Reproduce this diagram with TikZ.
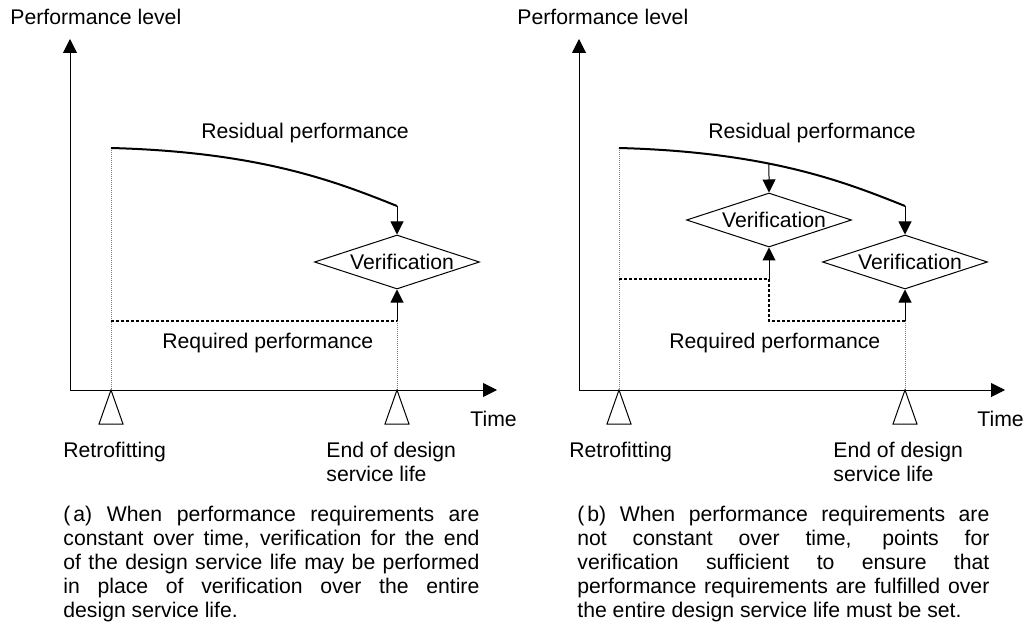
\documentclass[tikz,border=0pt]{standalone}
\usepackage{fontspec}
\setmainfont{Liberation Sans}
\usetikzlibrary{shapes.geometric,arrows.meta}

\tikzset{
  axis/.style={line width=0.5pt, -{Triangle[width=7pt,length=7pt]}},
  flow/.style={line width=0.5pt, -{Triangle[width=6.5pt,length=6.5pt]}},
  residual/.style={line width=1pt},
  required/.style={line width=1.1pt, dash pattern=on 1.5pt off 1pt},
  guide/.style={line width=0.3pt, gray, dash pattern=on 0.5pt off 0.5pt},
  verif/.style={draw, diamond, line width=0.5pt, minimum width=82.5pt, minimum height=27pt, inner sep=0pt},
  lbl/.style={font=\fontsize{10.6}{12}\selectfont, inner sep=0pt},
  caption/.style={lbl, text width=208pt, align=justify, anchor=base west,
    execute at begin node={\tolerance=10000}},
  tickmark/.style={draw, fill=white, line width=0.5pt}
}

\begin{document}
\begin{tikzpicture}[x=0.5pt, y=-0.5pt]

    \useasboundingbox (0,0) rectangle (1024,626);

    % ---------- (a) constant requirement ----------
    \coordinate (a-o) at (70,390);
    \coordinate (a-ytip) at (70,39);
    \coordinate (a-xtip) at (497,390);
    \coordinate (a-t0) at (111,390);
    \coordinate (a-t1) at (397,390);
    \coordinate (a-r0) at (111,148);
    \coordinate (a-r1) at (397,206);
    \coordinate (a-q0) at (111,321);
    \coordinate (a-q1) at (397,321);

    % Guides
    \draw[guide] (a-r0) -- (a-t0);
    \draw[guide] (a-q1) -- (a-t1);

    % Axes
    \draw[axis] (a-o) -- (a-ytip);
    \draw[axis] (a-o) -- (a-xtip);

    % Time marks
    \foreach \t in {a-t0, a-t1}
        \draw[tickmark] (\t) -- ++(-12,34) -- ++(24,0) -- cycle;

    % Residual and required performance
    \draw[residual] (a-r0) .. controls (261,152) and (337,182) .. (a-r1);
    \draw[required] (a-q0) -- (a-q1);

    % Verification
    \node[verif, label={[lbl, xshift=2.5pt]center:Verification}] (a-v) at (397,262) {};
    \draw[flow] (a-r1) -- (a-v.north);
    \draw[flow] (a-q1) -- (a-v.south);

    % Labels
    \node[lbl, anchor=base west] (a-ylab) at (10,25) {Performance level};
    \node[lbl, anchor=base west] (a-res) at (201,139) {Residual performance};
    \node[lbl, anchor=base west] (a-req) at (162,348) {Required performance};
    \node[lbl, anchor=base west] (a-time) at (470,426) {Time};
    \node[lbl, anchor=base west] (a-retro) at (63,457) {Retrofitting};
    \node[lbl, anchor=base west] (a-end1) at (326,457) {End of design};
    \node[lbl, anchor=base west] (a-end2) at (326,481) {service life};

    \node[caption] (a-cap) at (63,521) {(\kern1.5pt a) When performance requirements are\linebreak
        constant over time, verification for the end\linebreak
        of the design service life may be performed\linebreak
        in place of verification over the entire\linebreak
        design service life.};

    % ---------- (b) changing requirement ----------
    \coordinate (b-o) at (579,390);
    \coordinate (b-ytip) at (579,39);
    \coordinate (b-xtip) at (1005,390);
    \coordinate (b-t0) at (619,390);
    \coordinate (b-t1) at (905,390);
    \coordinate (b-r0) at (619,148);
    \coordinate (b-r1) at (905,206);
    \coordinate (b-q0) at (619,279);
    \coordinate (b-q1) at (769,279);
    \coordinate (b-q2) at (769,321);
    \coordinate (b-q3) at (905,321);

    % Guides
    \draw[guide] (b-r0) -- (b-t0);
    \draw[guide] (b-q3) -- (b-t1);

    % Axes
    \draw[axis] (b-o) -- (b-ytip);
    \draw[axis] (b-o) -- (b-xtip);

    % Time marks
    \foreach \t in {b-t0, b-t1}
        \draw[tickmark] (\t) -- ++(-12,34) -- ++(24,0) -- cycle;

    % Residual and required performance
    \draw[residual] (b-r0) .. controls (769,152) and (845,182) .. coordinate[pos=0.406] (b-rm) (b-r1);
    \draw[required] (b-q0) -- (b-q1) -- (b-q2) -- (b-q3);

    % Verification points
    \node[verif, label={[lbl, xshift=2.5pt]center:Verification}] (b-v1) at (769,220) {};
    \node[verif, label={[lbl, xshift=2.5pt]center:Verification}] (b-v2) at (905,262) {};
    \draw[flow] (b-rm) -- (b-v1.north);
    \draw[flow] (b-q1) -- (b-v1.south);
    \draw[flow] (b-r1) -- (b-v2.north);
    \draw[flow] (b-q3) -- (b-v2.south);

    % Labels
    \node[lbl, anchor=base west] (b-ylab) at (517,25) {Performance level};
    \node[lbl, anchor=base west] (b-res) at (708,139) {Residual performance};
    \node[lbl, anchor=base west] (b-req) at (669,349) {Required performance};
    \node[lbl, anchor=base west] (b-time) at (977,426) {Time};
    \node[lbl, anchor=base west] (b-retro) at (569,457) {Retrofitting};
    \node[lbl, anchor=base west] (b-end1) at (833,457) {End of design};
    \node[lbl, anchor=base west] (b-end2) at (833,481) {service life};

    \node[caption, text width=206pt] (b-cap) at (577,521) {(\kern1.5pt b) When performance requirements are\linebreak
        not constant over time, points for\linebreak
        verification sufficient to ensure that\linebreak
        performance requirements are fulfilled over\linebreak
        the entire design service life must be set.};

\end{tikzpicture}
\end{document}
